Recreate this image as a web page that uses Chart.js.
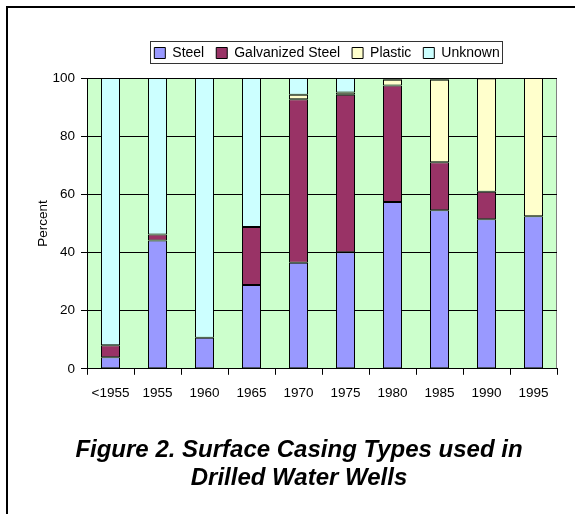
<!DOCTYPE html>
<html>
<head>
<meta charset="utf-8">
<script src="https://cdn.jsdelivr.net/npm/chart.js@4/dist/chart.umd.min.js"></script>
<style>
  html, body { margin: 0; padding: 0; background: #fff; overflow: hidden; }
  #wrap { position: relative; width: 575px; height: 514px; }
  #frame { position: absolute; left: 6px; top: 6px; width: 640px; height: 640px; border: 2px solid #000; box-sizing: border-box; }
  #myChart { position: absolute; left: 0; top: 0; }
</style>
</head>
<body>
<div id="wrap">
  <div id="frame"></div>
  <canvas id="myChart" width="575" height="514"></canvas>
</div>
<script>
// values (percent of wells)
var years = ["<1955", "1955", "1960", "1965", "1970", "1975", "1980", "1985", "1990", "1995"];
var steel = [4.0, 44.1, 10.7, 28.8, 36.5, 40.1, 57.4, 54.5, 51.4, 52.5];
var galvanized = [4.1, 2.1, 0, 20.0, 56.2, 54.1, 40.0, 16.5, 9.5, 0];
var plastic = [0, 0, 0, 0, 1.5, 0.8, 2.0, 28.4, 38.9, 47.5];
var unknown = [91.9, 53.8, 89.3, 51.2, 5.8, 5.0, 0.6, 0.6, 0.2, 0];
var yTicks = [0, 20, 40, 60, 80, 100];

var titleLines = ["Figure 2. Surface Casing Types used in", "Drilled Water Wells"];

Chart.defaults.font.family = '"Liberation Sans", Arial, Helvetica, sans-serif';
Chart.defaults.color = '#000';

// legend: a bit more room below it and nudged right like the original
var legendTweak = {
    id: 'legendTweak',
    beforeLayout: function (chart) {
        var lg = chart.legend;
        if (lg && !lg._gapPatched) {
            var fit = lg.fit;
            lg.fit = function () { fit.call(this); this.height += 8; };
            lg._gapPatched = true;
        }
    },
    afterLayout: function (chart) {
        chart.legend.left += 5;
        chart.legend.right += 5;
    }
};

// green plot background, grey right edge, legend frame and the caption
var decorations = {
    id: 'decorations',
    beforeDraw: function (chart) {
        var a = chart.chartArea, ctx = chart.ctx;
        ctx.save();
        ctx.fillStyle = '#CCFFCC';
        ctx.fillRect(a.left, a.top, a.right - a.left, a.bottom - a.top);
        ctx.strokeStyle = '#808080';
        ctx.lineWidth = 1;
        ctx.beginPath();
        ctx.moveTo(a.right - 0.5, a.top);
        ctx.lineTo(a.right - 0.5, a.bottom);
        ctx.stroke();
        ctx.restore();
    },
    afterDraw: function (chart) {
        var ctx = chart.ctx;
        var boxes = chart.legend.legendHitBoxes;
        if (boxes && boxes.length) {
            var l = Infinity, r = -Infinity, t = Infinity, b = -Infinity;
            boxes.forEach(function (h) {
                l = Math.min(l, h.left); r = Math.max(r, h.left + h.width);
                t = Math.min(t, h.top); b = Math.max(b, h.top + h.height);
            });
            ctx.save();
            ctx.strokeStyle = '#333';
            ctx.lineWidth = 1;
            ctx.strokeRect(Math.round(l) - 3.5, Math.round(t) - 4.5, Math.round(r - l) + 7, Math.round(b - t) + 8);
            ctx.restore();
        }
        ctx.save();
        ctx.fillStyle = '#000';
        ctx.font = 'italic bold 24px "Liberation Sans", Arial, sans-serif';
        ctx.textAlign = 'center';
        ctx.textBaseline = 'alphabetic';
        ctx.fillText(titleLines[0], 299, 457);
        ctx.fillText(titleLines[1], 299, 485);
        ctx.restore();
    }
};

var ctx = document.getElementById("myChart");
var myChart = new Chart(ctx, {
    type: 'bar',
    data: {
        labels: years,
        datasets: [
            { label: 'Steel', data: steel, backgroundColor: '#9999FF' },
            { label: 'Galvanized Steel', data: galvanized, backgroundColor: '#993366' },
            { label: 'Plastic', data: plastic, backgroundColor: '#FFFFCC' },
            { label: 'Unknown', data: unknown, backgroundColor: '#CCFFFF' }
        ]
    },
    options: {
        responsive: false,
        animation: false,
        layout: { padding: { top: 34, left: 35, right: 18, bottom: 103 } },
        datasets: {
            bar: {
                borderColor: '#000',
                borderWidth: 1,
                borderSkipped: false,
                inflateAmount: 0,
                barThickness: 19
            }
        },
        plugins: {
            legend: {
                position: 'top',
                fullSize: false,
                labels: {
                    boxWidth: 11,
                    boxHeight: 11,
                    padding: 12,
                    font: { size: 14 },
                    color: '#000'
                }
            },
            tooltip: { enabled: false },
            title: { display: false }
        },
        scales: {
            x: {
                stacked: true,
                grid: { drawOnChartArea: false, drawTicks: true, tickLength: 6, color: '#000' },
                border: { color: '#000', width: 1 },
                ticks: { font: { size: 13.5 }, padding: 10, maxRotation: 0, autoSkip: false }
            },
            y: {
                stacked: true,
                min: 0,
                max: 100,
                afterBuildTicks: function (axis) {
                    axis.ticks = yTicks.map(function (v) { return { value: v }; });
                },
                afterFit: function (axis) { axis.width = 52; },
                grid: { color: '#000', tickLength: 6 },
                border: { color: '#000', width: 1 },
                ticks: { font: { size: 13.5 }, padding: 6 },
                title: { display: true, text: 'Percent', font: { size: 13.5 }, padding: { top: 0, bottom: 0 } }
            }
        }
    },
    plugins: [legendTweak, decorations]
});
</script>
</body>
</html>
